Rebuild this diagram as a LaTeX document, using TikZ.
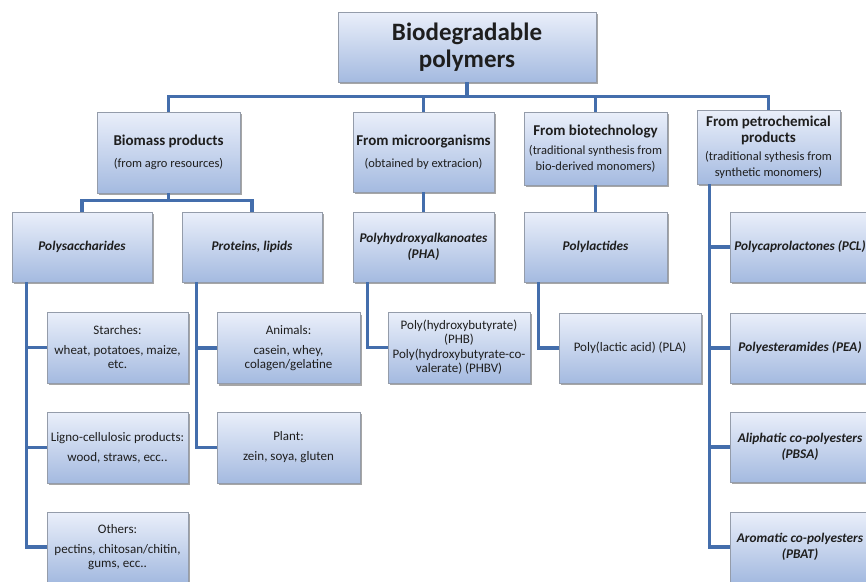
\documentclass[tikz,border=0pt]{standalone}
\usepackage{fontspec}
\setmainfont{Carlito}
\usetikzlibrary{shadows,calc}
\definecolor{linkblue}{RGB}{68,110,172}
\definecolor{boxtop}{RGB}{234,239,250}
\definecolor{boxbot}{RGB}{164,186,224}
\definecolor{boxedge}{RGB}{148,156,170}
\definecolor{txt}{RGB}{30,30,30}
\newcommand{\subsize}{\fontsize{12.5}{15}\selectfont\mdseries}

\begin{document}
\begin{tikzpicture}[x=1pt,y=-1pt,
  box/.style={draw=boxedge,line width=.8pt,top color=boxtop,bottom color=boxbot,
    drop shadow={shadow xshift=1.5pt,shadow yshift=-2pt,fill=black,opacity=.35},
    align=center,text=txt,inner xsep=0pt,inner ysep=2pt},
  main/.style={box,minimum width=258pt,minimum height=70pt,font=\fontsize{25}{27}\selectfont\bfseries},
  cat/.style={box,minimum width=143pt,font=\fontsize{15}{16}\selectfont\bfseries},
  fam/.style={box,minimum width=141pt,minimum height=70pt,font=\fontsize{13.3}{15.5}\selectfont\bfseries\itshape},
  item/.style={box,minimum width=142pt,minimum height=71pt,font=\fontsize{13}{14}\selectfont},
  link/.style={draw=linkblue,line width=3.2pt}]
\useasboundingbox (0,0) rectangle (866,581);
\fill[white] (0,0) rectangle (866,581);
\clip (0,0) rectangle (866,581);

\node[main] (root) at (467,47) {Biodegradable\\polymers};

\node[cat,minimum height=81pt] (bio) at (168.5,152.5) {Biomass products\\[6pt]\subsize (from agro resources)};
\node[cat,minimum height=80pt,minimum width=141pt] (micro) at (423.5,152) {From microorganisms\\[6pt]\subsize (obtained by extracion)};
\node[cat,minimum height=73pt] (biotech) at (595.5,148.5) {From biotechnology\\[3pt]\subsize (traditional synthesis from\\\subsize bio-derived monomers)};
\node[cat,minimum height=74pt] (petro) at (768.5,147) {From petrochemical\\products\\[2pt]\subsize (traditional sythesis from\\\subsize synthetic monomers)};

\node[fam,minimum width=140pt] (poly) at (82,247) {Polysaccharides};
\node[fam,minimum width=140pt] (prot) at (252,247) {Proteins, lipids};
\node[fam] (pha) at (423.5,247) {Polyhydroxyalkanoates\\(PHA)};
\node[fam,minimum width=143pt] (plac) at (595.5,247) {Polylactides};
\node[fam,minimum width=140pt] (pcl) at (800,247) {Polycaprolactones (PCL)};
\node[fam,minimum width=140pt] (pea) at (800,348) {Polyesteramides (PEA)};
\node[fam,minimum width=140pt] (pbsa) at (800,447) {Aliphatic co-polyesters\\(PBSA)};
\node[fam,minimum width=140pt] (pbat) at (800,547) {Aromatic co-polyesters\\(PBAT)};

\node[item,minimum width=141pt] (starch) at (117.5,347.5) {Starches:\\[6pt]wheat, potatoes, maize,\\etc.};
\node[item,minimum width=141pt] (ligno) at (117.5,447.5) {Ligno-cellulosic products:\\[6pt]wood, straws, ecc..};
\node[item,minimum width=141pt,minimum height=70pt] (others) at (117.5,547) {Others:\\[6pt]pectins, chitosan/chitin,\\gums, ecc..};
\node[item,minimum width=143pt] (animal) at (288.5,348) {Animals:\\[6pt]casein, whey,\\colagen/gelatine};
\node[item,minimum width=143pt] (plant) at (288.5,447.5) {Plant:\\[6pt]zein, soya, gluten};
\node[item] (phb) at (459,347.5) {Poly(hydroxybutyrate)\\(PHB)\\[1pt]Poly(hydroxybutyrate-co-\\valerate) (PHBV)};
\node[item,minimum height=70pt] (pla) at (630,348) {Poly(lactic acid) (PLA)};

\foreach \c in {bio,micro,biotech,petro}
  \draw[link] (root.south) -- ++(0,14) -| (\c.north);
\foreach \c in {poly,prot}
  \draw[link] (bio.south) -- ++(0,7) -| (\c.north);
\draw[link] (micro.south) -- (pha.north);
\draw[link] (biotech.south) -- (plac.north);
\foreach \c in {pcl,pea,pbsa,pbat}
  \draw[link] ([xshift=13pt]petro.south west) |- (\c.west);
\foreach \c in {starch,ligno,others}
  \draw[link] ([xshift=15pt]poly.south west) |- (\c.west);
\foreach \c in {animal,plant}
  \draw[link] ([xshift=15pt]prot.south west) |- (\c.west);
\draw[link] ([xshift=15pt]pha.south west) |- (phb.west);
\draw[link] ([xshift=15pt]plac.south west) |- (pla.west);
\end{tikzpicture}
\end{document}
